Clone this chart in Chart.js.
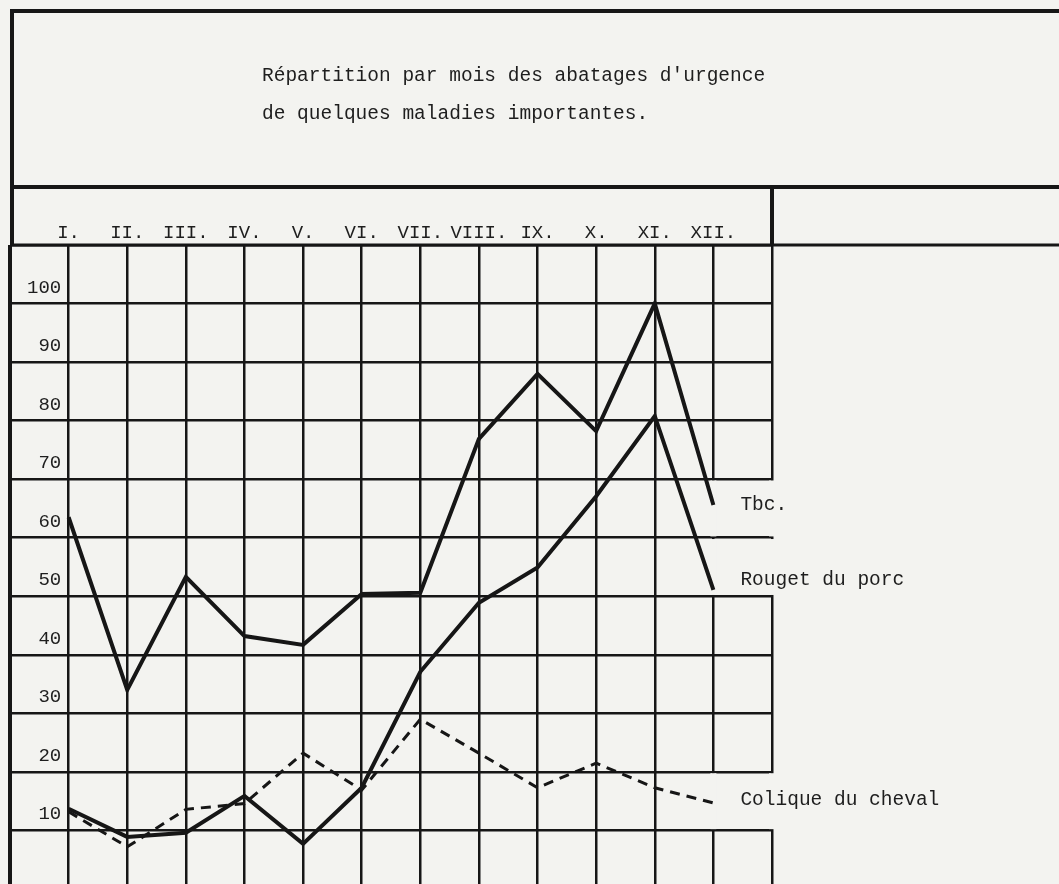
<!DOCTYPE html>
<html>
<head>
<meta charset="utf-8">
<script src="https://cdn.jsdelivr.net/npm/chart.js@4.4.1/dist/chart.umd.min.js"></script>
<style>
html,body{margin:0;padding:0;overflow:hidden;background:#f3f3f0;}
#wrap{width:1059px;height:895px;position:relative;}
canvas{display:block;}
</style>
</head>
<body>
<div id="wrap"><canvas id="c" width="1059" height="895"></canvas></div>
<script>
// ---- data ----
const months = ['I.','II.','III.','IV.','V.','VI.','VII.','VIII.','IX.','X.','XI.','XII.'];
const tbc     = [63.5, 34.0, 53.3, 43.2, 41.7, 50.4, 50.6, 76.9, 88.0, 78.2, 100, 65.6];
const rouget  = [13.7, 8.9, 9.6, 15.9, 7.7, 17.3, 37.1, 48.9, 54.9, 67.1, 80.8, 51.1];
const colique = [13.2, 7.2, 13.6, 14.6, 23.2, 16.9, 29.0, 23.2, 17.3, 21.5, 17.3, 14.7];
const yTickLabels = [10, 20, 30, 40, 50, 60, 70, 80, 90, 100];
const seriesNames = ['Tbc.', 'Rouget du porc', 'Colique du cheval'];
const titleLines = ["Répartition par mois des abatages d'urgence", "de quelques maladies importantes."];

// ---- styles ----
const INK = '#161616';
const PAPER = '#f3f3f0';
const FONT = "'Liberation Mono', 'DejaVu Sans Mono', monospace";

const toPts = arr => arr.map((v, i) => ({x: i, y: v}));

const formPlugin = {
  id: 'form',
  beforeDatasetsDraw(chart) {
    // gaps in the right-hand grid column where the series labels are typed
    const {ctx, scales: {x, y}} = chart;
    ctx.save();
    ctx.fillStyle = PAPER;
    const gaps = [[70, 60], [60, 50], [20, 10]];
    [11, 12].forEach(xv => {
      const px = x.getPixelForValue(xv);
      gaps.forEach(([a, b]) => {
        const y1 = y.getPixelForValue(a) + 1.3;
        const y2 = y.getPixelForValue(b) - 1.3;
        ctx.fillRect(px - 3, y1, 6, y2 - y1);
      });
    });
    ctx.restore();
  },
  afterDraw(chart) {
    const {ctx, chartArea, scales: {x, y}} = chart;
    const W = chart.width;
    ctx.save();
    ctx.strokeStyle = INK;
    ctx.lineCap = 'butt';
    const line = (x1, y1, x2, y2, w) => {
      ctx.lineWidth = w;
      ctx.beginPath(); ctx.moveTo(x1, y1); ctx.lineTo(x2, y2); ctx.stroke();
    };
    // form frame
    line(10, 11, W, 11, 4);
    line(12, 9, 12, chartArea.top, 4);
    line(10, 187, W, 187, 4);
    line(chartArea.left, chartArea.top, W, chartArea.top, 3);
    const xr = x.getPixelForValue(12);
    line(xr, 187, xr, chartArea.top, 4);

    // title
    ctx.fillStyle = '#1e1e1e';
    ctx.font = "19.5px " + FONT;
    ctx.textBaseline = 'middle';
    ctx.textAlign = 'left';
    ctx.fillText(titleLines[0], 262, 76);
    ctx.fillText(titleLines[1], 262, 114);

    // series labels next to the line ends
    const offs = [0, -10, -3];
    chart.data.datasets.forEach((ds, i) => {
      const meta = chart.getDatasetMeta(i);
      const last = meta.data[meta.data.length - 1];
      ctx.fillText(seriesNames[i], last.x + 27, last.y + offs[i]);
    });
    ctx.restore();
  }
};

Chart.defaults.font.family = FONT;
Chart.defaults.color = '#1e1e1e';

new Chart(document.getElementById('c'), {
  type: 'line',
  data: {
    datasets: [
      {label: seriesNames[0], data: toPts(tbc), borderColor: INK, borderWidth: 4, pointRadius: 0, tension: 0},
      {label: seriesNames[1], data: toPts(rouget), borderColor: INK, borderWidth: 4, pointRadius: 0, tension: 0},
      {label: seriesNames[2], data: toPts(colique), borderColor: INK, borderWidth: 3, borderDash: [10, 7], pointRadius: 0, tension: 0}
    ]
  },
  options: {
    responsive: false,
    animation: false,
    layout: {padding: {left: 10, right: 1059 - 772, top: 187, bottom: 6}},
    plugins: {legend: {display: false}, tooltip: {enabled: false}, title: {display: false}},
    scales: {
      x: {
        type: 'linear',
        position: 'top',
        min: -1, max: 12,
        afterFit(s) { s.height = 58; s.paddingLeft = 0; s.paddingRight = 0; },
        afterBuildTicks(s) { s.ticks = []; for (let i = -1; i <= 12; i++) s.ticks.push({value: i}); },
        ticks: {
          font: {size: 19},
          padding: 1,
          maxRotation: 0,
          autoSkip: false,
          callback: v => (v >= 0 && v < months.length) ? months[v] : ''
        },
        grid: {
          color: INK,
          drawTicks: false,
          lineWidth: c => (c.tick && c.tick.value === -1) ? 4 : 2.5
        },
        border: {display: false}
      },
      y: {
        type: 'linear',
        min: 0, max: 110,
        afterFit(s) { s.width = 0; s.paddingTop = 0; s.paddingBottom = 0; },
        afterBuildTicks(s) { s.ticks = [{value: 0}].concat(yTickLabels.map(v => ({value: v}))).concat([{value: 110}]); },
        ticks: {
          mirror: true,
          crossAlign: 'far',
          padding: 17,
          labelOffset: -16,
          font: {size: 19},
          callback: v => yTickLabels.includes(v) ? String(v) : ''
        },
        grid: {color: INK, drawTicks: false, lineWidth: 2.5},
        border: {display: false}
      }
    }
  },
  plugins: [formPlugin]
});
</script>
</body>
</html>
